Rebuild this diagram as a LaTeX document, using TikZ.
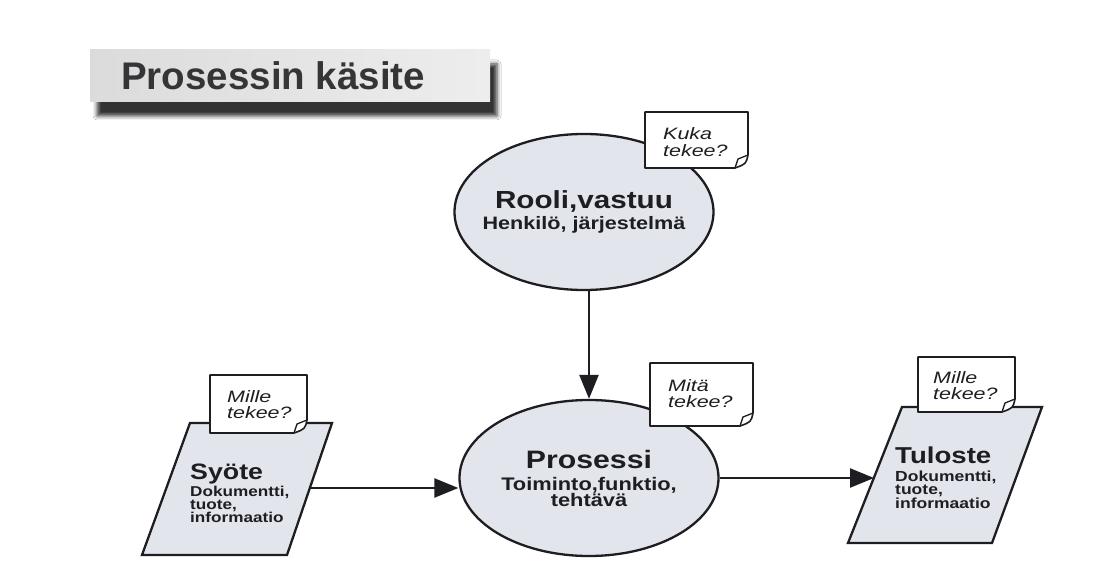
\documentclass[tikz,border=0pt]{standalone}
\usepackage{fontspec}
\usepackage{graphicx}
\setmainfont{Liberation Sans}
\usetikzlibrary{shapes.geometric,arrows.meta,shadows.blur}
\definecolor{ink}{HTML}{1E1E22}
\definecolor{shapefill}{HTML}{E3E5EC}
\newcommand{\fsz}[2]{\fontsize{#1}{#2}\selectfont}
\newcommand{\sx}[2]{\scalebox{#1}[1]{#2}}
\newcommand{\notepaper}[4]{%
  \filldraw[notestyle] (#1,#2) -- (#3,#2) -- (#3,#4-13) .. controls (#3-2,#4-4) .. (#3-13,#4) -- (#1,#4) -- cycle;
  \draw[flapstyle] (#3,#4-13) -- (#3-10,#4-9) .. controls (#3-11,#4-5) .. (#3-13,#4);}
\lineskiplimit=-100pt
\begin{document}
\begin{tikzpicture}[x=1pt,y=-1pt,
  every node/.style={inner sep=0pt, text=ink},
  bubble/.style={ellipse, draw=ink, line width=2.3pt, fill=shapefill,
    minimum width=259pt, minimum height=156pt, inner xsep=-40pt,
    align=center, font=\bfseries\fsz{18}{21}},
  paper/.style={draw=ink, line width=2.3pt, fill=shapefill, line join=miter},
  blocktext/.style={anchor=base west, align=left, text width=125pt},
  notestyle/.style={draw=ink, fill=white, line width=1.6pt, line join=round},
  flapstyle/.style={draw=ink, line width=1.3pt, line join=round},
  notetext/.style={anchor=base west, align=left, text width=72pt,
    font=\itshape\fsz{16.5}{17}},
  conn/.style={draw=ink, line width=2.4pt, -{Triangle[length=24pt,width=19pt]}},
]
\useasboundingbox (0,0) rectangle (1112,572);
\fill[white] (0,0) rectangle (1112,572);

% title
\node (titlebox) [rectangle, minimum width=400pt, minimum height=52pt,
  left color=gray!28, right color=gray!14,
  blur shadow={shadow xshift=7pt, shadow yshift=-14pt, shadow blur radius=4pt, shadow opacity=80}]
  at (290,76) {};
\node (title) [anchor=base west, font=\bfseries\fsz{38.5}{40}, text=ink!90] at (121,90) {Prosessin käsite};

% main shapes
\node (rooli) [bubble] at (584,212)
  {\sx{1.2}{\fsz{24.7}{26}Rooli,vastuu}\\\sx{1.2}{Henkilö, järjestelmä}};
\node (prosessi) [bubble, font=\bfseries\fsz{18.2}{22}] at (589,478)
  {\sx{1.2}{\fsz{25.2}{26}Prosessi}\\\sx{1.2}{Toiminto,funktio,}\\[-6pt]\sx{1.2}{tehtävä}};

\filldraw[paper] (142,555) -- (287,555) -- (332,423) -- (190,423) -- cycle;
\node (syote) [blocktext, font=\bfseries\fsz{14.3}{13}] at (190,479)
  {\sx{1.2}{\fsz{22.3}{24}Syöte}\\[2pt]\sx{1.2}{Dokumentti,}\\\sx{1.2}{tuote,}\\\sx{1.2}{informaatio}};

\filldraw[paper] (848,543) -- (992,543) -- (1042,407) -- (902,407) -- cycle;
\node (tuloste) [blocktext, font=\bfseries\fsz{14.6}{13.5}] at (895,463)
  {\sx{1.2}{\fsz{23}{24}Tuloste}\\[4.5pt]\sx{1.2}{Dokumentti,}\\\sx{1.2}{tuote,}\\\sx{1.2}{informaatio}};

\coordinate (syoteE) at (310,488);
\coordinate (tulosteW) at (874,478);

% connectors
\draw[conn] (prosessi.north |- rooli.south) -- (prosessi.north);
\draw[conn] (syoteE) -- (syoteE -| prosessi.west);
\draw[conn] (prosessi.east) -- (tulosteW);

% notes
\notepaper{645}{112}{748}{168}
\node (kuka) [notetext] at (663,140) {\sx{1.3}{Kuka}\\\sx{1.3}{tekee?}};
\notepaper{650}{363}{753}{426}
\node (mita) [notetext] at (668,391) {\sx{1.3}{Mitä}\\\sx{1.3}{tekee?}};
\notepaper{210}{375}{307}{433}
\node (mille1) [notetext] at (227,402) {\sx{1.3}{Mille}\\\sx{1.3}{tekee?}};
\notepaper{918}{357}{1015}{412}
\node (mille2) [notetext] at (933,383) {\sx{1.3}{Mille}\\\sx{1.3}{tekee?}};
\end{tikzpicture}
\end{document}
